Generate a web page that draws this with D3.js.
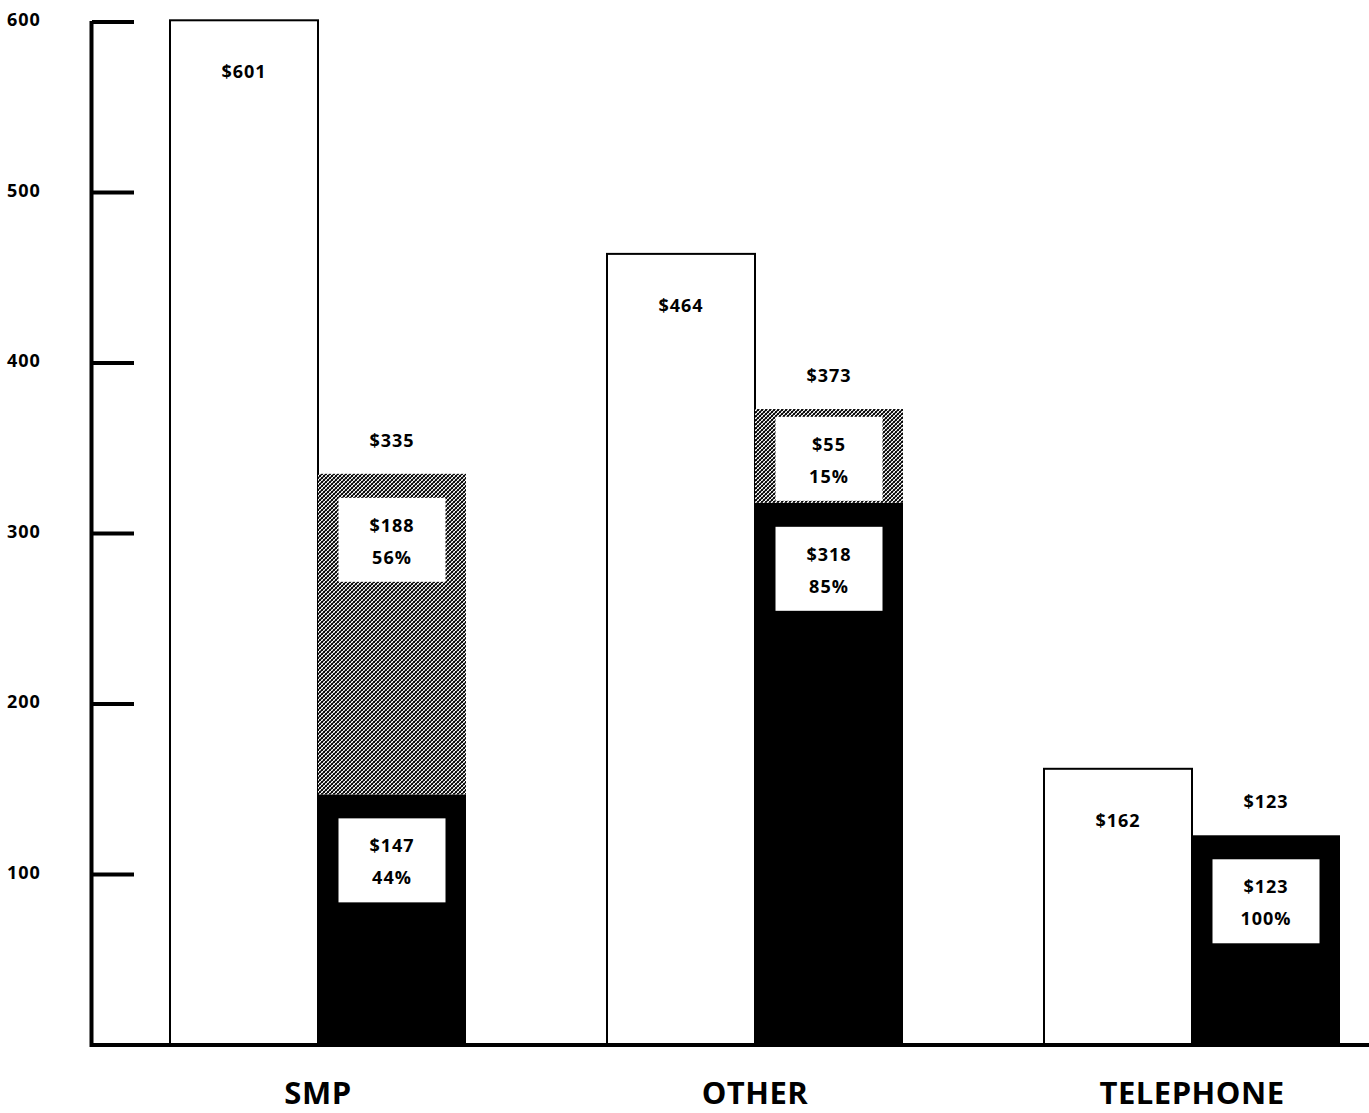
<!DOCTYPE html>
<html>
<head>
<meta charset="utf-8">
<script src="https://cdn.jsdelivr.net/npm/d3@7/dist/d3.min.js"></script>
<style>
  html, body { margin: 0; padding: 0; background: #fff; }
  svg text { font-family: "Open Sans", "Noto Sans", sans-serif; font-weight: 700; fill: #000; }
</style>
</head>
<body>
<svg id="chart" width="1369" height="1113"></svg>
<script>
// Spending by category: total bar, and a stacked bar split into two parts
const categories = ["SMP", "OTHER", "TELEPHONE"];
const totals     = [601, 464, 162];
const stackTotal = [335, 373, 123];
const blackPart  = [147, 318, 123];
const greyPart   = [188, 55, 0];
const blackPct   = ["44%", "85%", "100%"];
const greyPct    = ["56%", "15%", ""];
const yTicks     = [100, 200, 300, 400, 500, 600];

const svg = d3.select("#chart");

// cross-hatched grey fill
const defs = svg.append("defs");
const pat = defs.append("pattern")
  .attr("id", "hatch").attr("patternUnits", "userSpaceOnUse")
  .attr("width", 4).attr("height", 4);
pat.append("rect").attr("width", 4).attr("height", 4).attr("fill", "#fff");
pat.append("path").attr("d", "M-1,1 l2,-2 M0,4 l4,-4 M3,5 l2,-2")
  .attr("stroke", "#000").attr("stroke-width", 1.3);
pat.append("path").attr("d", "M-1,3 l2,2 M0,0 l4,4 M3,-1 l2,2")
  .attr("stroke", "#000").attr("stroke-width", 0.8);

const y = d3.scaleLinear().domain([0, 600]).range([1045, 22]);
const x0 = d3.scalePoint().domain(categories).range([318, 1192]);
const barW = 148;

const rows = categories.map((c, i) => ({
  cat: c, total: totals[i], stack: stackTotal[i],
  black: blackPart[i], grey: greyPart[i],
  bPct: blackPct[i], gPct: greyPct[i]
}));

const valFont = 18;

// total bars (white, outlined)
svg.selectAll("rect.total").data(rows).join("rect")
  .attr("class", "total")
  .attr("x", d => x0(d.cat) - barW)
  .attr("y", d => y(d.total))
  .attr("width", barW)
  .attr("height", d => y(0) - y(d.total))
  .attr("fill", "#fff").attr("stroke", "#000").attr("stroke-width", 2);

svg.selectAll("text.totalLbl").data(rows).join("text")
  .attr("class", "totalLbl")
  .attr("x", d => x0(d.cat) - barW / 2)
  .attr("y", d => y(d.total) + 51)
  .attr("text-anchor", "middle").attr("dominant-baseline", "central")
  .attr("font-size", valFont).attr("letter-spacing", 1)
  .text(d => "$" + d.total);

// stacked bars: black lower part, hatched upper part
svg.selectAll("rect.black").data(rows).join("rect")
  .attr("class", "black")
  .attr("x", d => x0(d.cat))
  .attr("y", d => y(d.black))
  .attr("width", barW)
  .attr("height", d => y(0) - y(d.black))
  .attr("fill", "#000");

const greyRows = rows.filter(d => d.grey > 0);
svg.selectAll("rect.grey").data(greyRows).join("rect")
  .attr("class", "grey")
  .attr("x", d => x0(d.cat))
  .attr("y", d => y(d.black + d.grey))
  .attr("width", barW)
  .attr("height", d => y(d.black) - y(d.black + d.grey))
  .attr("fill", "url(#hatch)");

svg.selectAll("text.stackLbl").data(rows).join("text")
  .attr("class", "stackLbl")
  .attr("x", d => x0(d.cat) + barW / 2)
  .attr("y", d => y(d.stack) - 34)
  .attr("text-anchor", "middle").attr("dominant-baseline", "central")
  .attr("font-size", valFont).attr("letter-spacing", 1)
  .text(d => "$" + d.stack);

// white value boxes inside each segment
const segs = [];
rows.forEach(d => {
  segs.push({ cat: d.cat, base: 0, top: d.black, val: d.black, pct: d.bPct });
  if (d.grey > 0) segs.push({ cat: d.cat, base: d.black, top: d.black + d.grey, val: d.grey, pct: d.gPct });
});
const boxW = 107, boxH = 84;
const box = svg.selectAll("g.seg").data(segs).join("g")
  .attr("class", "seg")
  .attr("transform", d => {
    const segH = y(d.base) - y(d.top);
    const off = Math.max(4, Math.min(24, segH - boxH - 2));
    return `translate(${x0(d.cat) + barW / 2},${y(d.top) + off})`;
  });
box.append("rect")
  .attr("x", -boxW / 2).attr("y", 0).attr("width", boxW).attr("height", boxH)
  .attr("fill", "#fff");
box.append("text")
  .attr("y", 27).attr("text-anchor", "middle").attr("dominant-baseline", "central")
  .attr("font-size", valFont).attr("letter-spacing", 1).text(d => "$" + d.val);
box.append("text")
  .attr("y", 59).attr("text-anchor", "middle").attr("dominant-baseline", "central")
  .attr("font-size", valFont).attr("letter-spacing", 1).text(d => d.pct);

// axes
svg.append("line")
  .attr("x1", 91.5).attr("x2", 91.5).attr("y1", y(600) - 1).attr("y2", y(0) + 2)
  .attr("stroke", "#000").attr("stroke-width", 4);
svg.append("line")
  .attr("x1", 90).attr("x2", 1369).attr("y1", y(0)).attr("y2", y(0))
  .attr("stroke", "#000").attr("stroke-width", 4);

svg.selectAll("line.tick").data(yTicks).join("line")
  .attr("class", "tick")
  .attr("x1", 92).attr("x2", 134)
  .attr("y1", d => y(d)).attr("y2", d => y(d))
  .attr("stroke", "#000").attr("stroke-width", 4);

svg.selectAll("text.tickLbl").data(yTicks).join("text")
  .attr("class", "tickLbl")
  .attr("x", 7).attr("y", d => y(d) - 3)
  .attr("dominant-baseline", "central")
  .attr("font-size", 18).attr("letter-spacing", 1)
  .text(d => d);

svg.selectAll("text.cat").data(categories).join("text")
  .attr("class", "cat")
  .attr("x", d => x0(d))
  .attr("y", 1104)
  .attr("text-anchor", "middle")
  .attr("font-size", 31).attr("letter-spacing", 0.5)
  .text(d => d);
</script>
</body>
</html>
